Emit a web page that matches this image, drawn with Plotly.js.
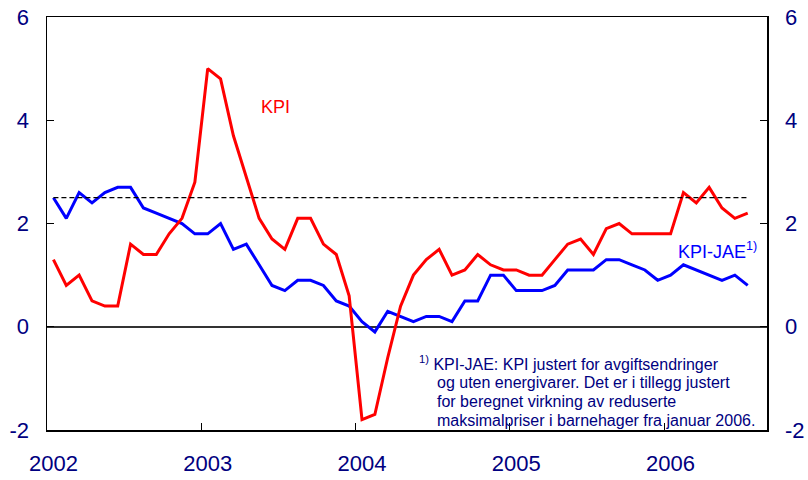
<!DOCTYPE html>
<html>
<head>
<meta charset="utf-8">
<script src="https://cdn.plot.ly/plotly-3.0.1.min.js"></script>
<style>html,body{margin:0;padding:0;background:#fff;}#chart{width:808px;height:480px;}</style>
</head>
<body>
<div id="chart"></div>
<script>
// Monthly data, Jan 2002 - Jul 2006 (12-month change, per cent)
const years = ["2002", "2003", "2004", "2005", "2006"];
const kpi = [1.3, 0.8, 1.0, 0.5, 0.4, 0.4, 1.6, 1.4, 1.4, 1.8, 2.1, 2.8,
             5.0, 4.8, 3.7, 2.9, 2.1, 1.7, 1.5, 2.1, 2.1, 1.6, 1.4, 0.6,
             -1.8, -1.7, -0.6, 0.4, 1.0, 1.3, 1.5, 1.0, 1.1, 1.4, 1.2, 1.1,
             1.1, 1.0, 1.0, 1.3, 1.6, 1.7, 1.4, 1.9, 2.0, 1.8, 1.8, 1.8,
             1.8, 2.6, 2.4, 2.7, 2.3, 2.1, 2.2];
const kpiJae = [2.5, 2.1, 2.6, 2.4, 2.6, 2.7, 2.7, 2.3, 2.2, 2.1, 2.0, 1.8,
                1.8, 2.0, 1.5, 1.6, 1.2, 0.8, 0.7, 0.9, 0.9, 0.8, 0.5, 0.4,
                0.1, -0.1, 0.3, 0.2, 0.1, 0.2, 0.2, 0.1, 0.5, 0.5, 1.0, 1.0,
                0.7, 0.7, 0.7, 0.8, 1.1, 1.1, 1.1, 1.3, 1.3, 1.2, 1.1, 0.9,
                1.0, 1.2, 1.1, 1.0, 0.9, 1.0, 0.8];
const target = 2.5;
const yTicks = [-2, 0, 2, 4, 6];
const yTickText = ["-2", "0", "2", "4", "6"];

const monthNames = ["01","02","03","04","05","06","07","08","09","10","11","12"];
const months = [];
years.forEach(y => monthNames.forEach(m => months.push(y + "-" + m)));
const nObs = kpi.length;
const cats = months.slice(0, nObs);
const xIdx = cats.map((_, i) => i);

const xRange = [-0.5, 55.5];
const boundaryTicks = years.map((_, i) => i * 12 - 0.5);
const labelTicks = years.map((_, i) => i * 12);

const navy = "#000080";
const FONT = "Liberation Sans, Arial, sans-serif";

const traces = [
  {x: xIdx, y: cats.map(() => target), xaxis: "x2", yaxis: "y2", mode: "lines",
   line: {color: "#000", width: 1.2, dash: "5px,3px"}, hoverinfo: "skip", showlegend: false},
  {x: xIdx, y: kpiJae, mode: "lines", name: "KPI-JAE", text: cats,
   line: {color: "#0000ff", width: 3}, showlegend: false},
  {x: xIdx, y: kpi, mode: "lines", name: "KPI", text: cats,
   line: {color: "#ff0000", width: 3}, showlegend: false}
];

// pixel helpers for text placement (plot area 47..767 x 17..430)
const L = 47, R = 767, T = 17, B = 430;
const px = v => (v - L) / (R - L);
const py = v => (B - v) / (B - T);

const noteLines = [
  "<sup>1)</sup> KPI-JAE: KPI justert for avgiftsendringer",
  "og uten energivarer. Det er i tillegg justert",
  "for beregnet virkning av reduserte",
  "maksimalpriser i barnehager fra januar 2006."
];
const noteX = [417, 435, 435, 435];
const noteY = [363, 382, 401, 420];

const annotations = [
  {xref: "paper", yref: "paper", x: px(259), y: py(107), xanchor: "left", yanchor: "middle",
   text: "KPI", showarrow: false, font: {family: FONT, size: 18, color: "#ff0000"}},
  {xref: "paper", yref: "paper", x: px(676), y: py(251), xanchor: "left", yanchor: "middle",
   text: "KPI-JAE<sup>1)</sup>", showarrow: false, font: {family: FONT, size: 18, color: "#0000ff"}}
];
noteLines.forEach((t, i) => annotations.push({
  xref: "paper", yref: "paper", x: px(noteX[i]), y: py(noteY[i]), xanchor: "left", yanchor: "middle",
  text: t, showarrow: false, font: {family: FONT, size: 16, color: navy}
}));

const layout = {
  width: 808, height: 480,
  margin: {l: L, r: 808 - R, t: T, b: 480 - B},
  paper_bgcolor: "#fff", plot_bgcolor: "#fff",
  font: {family: FONT, color: navy},
  showlegend: false,
  xaxis: {range: xRange, tickmode: "array", tickvals: boundaryTicks, showticklabels: false,
          ticks: "inside", ticklen: 7, tickwidth: 1, tickcolor: "#000",
          showline: true, linecolor: "#000", linewidth: 1.5, mirror: true,
          showgrid: false, zeroline: false, fixedrange: true},
  xaxis2: {range: xRange, overlaying: "x", anchor: "y", side: "bottom", tickmode: "array",
           tickvals: labelTicks, ticktext: years, ticks: "", showline: false, showgrid: false,
           zeroline: false, tickfont: {family: FONT, size: 22, color: navy}, ticklabelstandoff: 18},
  yaxis: {range: [-2, 6], tickmode: "array", tickvals: yTicks, ticktext: yTickText,
          ticks: "inside", ticklen: 7,
          tickcolor: "#000", showline: true, linecolor: "#000", linewidth: 1.5, mirror: false,
          showgrid: false, zeroline: true, zerolinecolor: "#333", zerolinewidth: 1.5,
          tickfont: {family: FONT, size: 22, color: navy}, ticklabelstandoff: 12},
  yaxis2: {range: [-2, 6], overlaying: "y", side: "right", anchor: "x", tickmode: "array",
           tickvals: yTicks, ticktext: yTickText, ticks: "inside", ticklen: 7, tickcolor: "#000",
           showline: true, linecolor: "#000", linewidth: 1.5, showgrid: false, zeroline: false,
           tickfont: {family: FONT, size: 22, color: navy}, ticklabelstandoff: 12},
  annotations: annotations
};

Plotly.newPlot("chart", traces, layout, {staticPlot: true, displayModeBar: false});
</script>
</body>
</html>
